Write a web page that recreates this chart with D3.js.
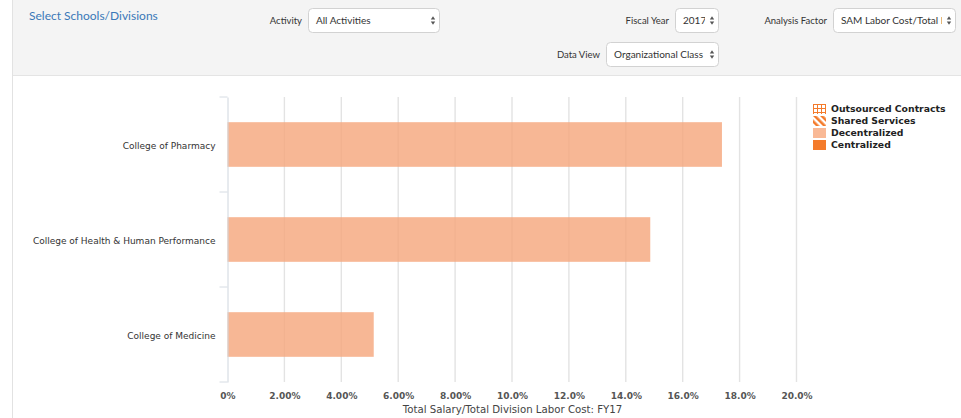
<!DOCTYPE html>
<html>
<head>
<meta charset="utf-8">
<script src="https://cdn.jsdelivr.net/npm/d3@7"></script>
<style>
  html, body { margin: 0; padding: 0; background: #fff; }
  svg { display: block; }
</style>
</head>
<body>
<svg id="chart" width="961" height="418"></svg>
<script>
// Organizational-class breakdown of labor cost by school/division
const categories = ["College of Pharmacy", "College of Health & Human Performance", "College of Medicine"];
const decentralized = [17.38, 14.86, 5.14];
const tickValues = [0, 2, 4, 6, 8, 10, 12, 14, 16, 18, 20];
const tickLabels = ["0%", "2.00%", "4.00%", "6.00%", "8.00%", "10.0%", "12.0%", "14.0%", "16.0%", "18.0%", "20.0%"];
const legendLabels = ["Outsourced Contracts", "Shared Services", "Decentralized", "Centralized"];
const xAxisTitle = "Total Salary/Total Division Labor Cost: FY17";

const svg = d3.select("#chart");
const uiFont = "Lato, 'Helvetica Neue', Arial, sans-serif";
const chartFont = "'DejaVu Sans', 'Lucida Grande', sans-serif";

// ---- filter bar ----
svg.append("rect").attr("x", 13).attr("y", 0).attr("width", 948).attr("height", 75).attr("fill", "#f4f4f4");
svg.append("line").attr("x1", 13).attr("x2", 961).attr("y1", 75.5).attr("y2", 75.5).attr("stroke", "#e4e4e4");
svg.append("line").attr("x1", 12.5).attr("x2", 12.5).attr("y1", 0).attr("y2", 418).attr("stroke", "#e2e2e2");

svg.append("text").attr("x", 29).attr("y", 20)
  .attr("font-family", uiFont).attr("font-size", 12).attr("fill", "#3a78b8")
  .text("Select Schools/Divisions");

const controls = [
  { label: "Activity", value: "All Activities", x: 308, y: 8, w: 131 },
  { label: "Fiscal Year", value: "2017", x: 675, y: 8, w: 43 },
  { label: "Analysis Factor", value: "SAM Labor Cost/Total L", x: 833, y: 8, w: 122 },
  { label: "Data View", value: "Organizational Class", x: 606, y: 42, w: 112 }
];
controls.forEach((c, i) => {
  const g = svg.append("g");
  g.append("clipPath").attr("id", "clip" + i)
    .append("rect").attr("x", c.x).attr("y", c.y).attr("width", c.w - 13).attr("height", 25);
  g.append("text").attr("x", c.x - 6).attr("y", c.y + 12.5).attr("dy", "0.35em")
    .attr("text-anchor", "end").attr("font-family", uiFont).attr("font-size", 9.5).attr("fill", "#333")
    .text(c.label);
  g.append("rect").attr("x", c.x + 0.5).attr("y", c.y + 0.5).attr("width", c.w).attr("height", 24)
    .attr("rx", 4).attr("fill", "#fff").attr("stroke", "#d2d2d2");
  g.append("text").attr("x", c.x + 8).attr("y", c.y + 12.5).attr("dy", "0.35em")
    .attr("clip-path", `url(#clip${i})`)
    .attr("font-family", uiFont).attr("font-size", 10).attr("fill", "#333")
    .text(c.value);
  const ax = c.x + c.w - 6, ay = c.y + 12.5;
  g.append("path").attr("d", `M${ax - 2.2},${ay - 1} L${ax + 2.2},${ay - 1} L${ax},${ay - 4.2} Z`).attr("fill", "#555");
  g.append("path").attr("d", `M${ax - 2.2},${ay + 1} L${ax + 2.2},${ay + 1} L${ax},${ay + 4.2} Z`).attr("fill", "#555");
});

// ---- chart ----
const x = d3.scaleLinear().domain([0, 20]).range([227.5, 796.5]);
const y = d3.scaleBand().domain(categories).range([97, 382]).paddingInner(0.53).paddingOuter(0.265);
const step = y.step();

// vertical grid
svg.append("g").selectAll("line").data(tickValues.slice(1)).join("line")
  .attr("x1", d => x(d)).attr("x2", d => x(d)).attr("y1", 97).attr("y2", 382)
  .attr("stroke", "#e3e3e3").attr("stroke-width", 1.4);

// bars (semi-transparent so the grid shows through)
svg.append("g").selectAll("rect").data(categories).join("rect")
  .attr("x", x(0)).attr("y", d => y(d))
  .attr("width", (d, i) => x(decentralized[i]) - x(0))
  .attr("height", y.bandwidth())
  .attr("fill", "#f5a57a").attr("fill-opacity", 0.8);

// y axis: boundary ticks + centered labels
const yAxis = svg.append("g").attr("transform", `translate(${x(0)},0)`);
yAxis.call(d3.axisLeft(y).tickSize(0).tickPadding(12).tickSizeOuter(0));
yAxis.select(".domain").attr("stroke", "#cfd6de");
yAxis.selectAll("text").attr("font-family", chartFont).attr("font-size", 9).attr("fill", "#333")
  .attr("dy", "0.45em");
const bounds = [97].concat(categories.map(c => y(c) - step * y.paddingInner() / 2 + step));
yAxis.selectAll(".bound").data(bounds).join("line").attr("class", "bound")
  .attr("x1", -8).attr("x2", 0).attr("y1", d => d).attr("y2", d => d)
  .attr("stroke", "#d6dce3");

// x axis labels
const xAxis = svg.append("g").attr("transform", "translate(0,382)");
xAxis.call(d3.axisBottom(x).tickValues(tickValues).tickFormat((d, i) => tickLabels[i]).tickSize(0).tickPadding(11));
xAxis.select(".domain").remove();
xAxis.selectAll("text").attr("font-family", chartFont).attr("font-size", 9).attr("font-weight", "bold").attr("fill", "#555");

svg.append("text").attr("x", (x(0) + x(20)) / 2 + 0.5).attr("y", 409).attr("dy", "0.35em")
  .attr("text-anchor", "middle").attr("font-family", chartFont).attr("font-size", 10.2).attr("fill", "#444")
  .text(xAxisTitle);

// ---- legend ----
const defs = svg.append("defs");
const grid = defs.append("pattern").attr("id", "gridPat").attr("patternUnits", "userSpaceOnUse")
  .attr("width", 4).attr("height", 4);
grid.append("rect").attr("width", 4).attr("height", 4).attr("fill", "#fff");
grid.append("path").attr("d", "M0,0.5 H4 M0.5,0 V4").attr("stroke", "#f47b2b").attr("stroke-width", 1);
const stripes = defs.append("pattern").attr("id", "stripePat").attr("patternUnits", "userSpaceOnUse")
  .attr("width", 5).attr("height", 5).attr("patternTransform", "rotate(-45)");
stripes.append("rect").attr("width", 5).attr("height", 5).attr("fill", "#fff");
stripes.append("rect").attr("width", 2.6).attr("height", 5).attr("fill", "#f47b2b");

const legendFills = ["url(#gridPat)", "url(#stripePat)", "#f9b996", "#f47b2b"];
const legend = svg.append("g").attr("transform", "translate(813,104)");
legendLabels.forEach((l, i) => {
  const g = legend.append("g").attr("transform", `translate(0,${i * 12})`);
  g.append("rect").attr("width", 13).attr("height", 10).attr("fill", legendFills[i]);
  g.append("text").attr("x", 18).attr("y", 5).attr("dy", "0.35em")
    .attr("font-family", chartFont).attr("font-size", 9.3).attr("font-weight", "bold").attr("fill", "#222")
    .text(l);
});
</script>
</body>
</html>
